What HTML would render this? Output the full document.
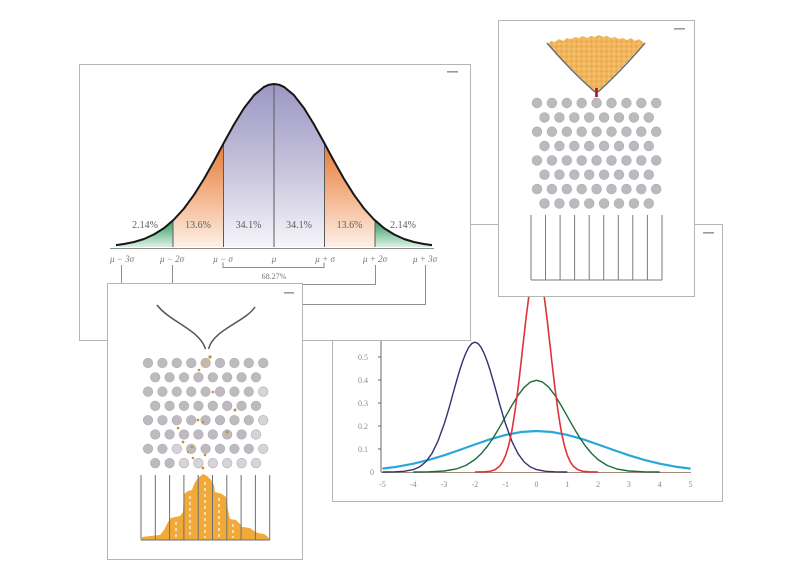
<!DOCTYPE html>
<html>
<head>
<meta charset="utf-8">
<style>
  html,body{margin:0;padding:0;background:#fff;}
  svg{display:block;}
  text{font-family:"Liberation Serif",serif;}
</style>
</head>
<body>
<svg width="800" height="584" viewBox="0 0 800 584" xmlns="http://www.w3.org/2000/svg">
  <defs>
    <linearGradient id="lav" gradientUnits="userSpaceOnUse" x1="0" y1="84" x2="0" y2="247">
      <stop offset="0" stop-color="#9c97c3"/>
      <stop offset="0.55" stop-color="#c9c6dd"/>
      <stop offset="1" stop-color="#f6f5fa"/>
    </linearGradient>
    <linearGradient id="org" gradientUnits="userSpaceOnUse" x1="0" y1="142" x2="0" y2="247">
      <stop offset="0" stop-color="#e47b35"/>
      <stop offset="0.5" stop-color="#f3b389"/>
      <stop offset="1" stop-color="#fdf0e7"/>
    </linearGradient>
    <linearGradient id="grn" gradientUnits="userSpaceOnUse" x1="0" y1="220" x2="0" y2="247">
      <stop offset="0" stop-color="#2f9a60"/>
      <stop offset="1" stop-color="#dcf0e4"/>
    </linearGradient>
    <pattern id="sand" width="5" height="5" patternUnits="userSpaceOnUse">
      <rect width="5" height="5" fill="#f1b65d"/>
      <circle cx="1.5" cy="1.5" r="1" fill="#e5a142"/>
      <circle cx="4" cy="3.8" r="0.8" fill="#f8cd85"/>
    </pattern>
    <path id="bell" d="M116,247 L116,245.1 L124,244 L134,242 L144,239 L154,234.4 L164,228.1 L174,219.5 L184,208.5 L194,194.8 L204,178.9 L214,161.1 L224,142.5 L234,124.4 L244,108.1 L254,95.2 L264,86.9 L269,84.7 L274,84 L279,84.7 L284,86.9 L294,95.2 L304,108.1 L314,124.4 L324,142.5 L334,161.1 L344,178.9 L354,194.8 L364,208.5 L374,219.5 L384,228.1 L394,234.4 L404,239 L414,242 L424,244 L432,245.1 L432,247 Z"/>
    <clipPath id="cG1"><rect x="100" y="60" width="73" height="200"/></clipPath>
    <clipPath id="cO1"><rect x="173" y="60" width="50.5" height="200"/></clipPath>
    <clipPath id="cL"><rect x="223.5" y="60" width="101" height="200"/></clipPath>
    <clipPath id="cO2"><rect x="324.5" y="60" width="50.5" height="200"/></clipPath>
    <clipPath id="cG2"><rect x="375" y="60" width="70" height="200"/></clipPath>
  </defs>

  <rect width="800" height="584" fill="#fff"/>

  <!-- ============ PANEL D (line chart) ============ -->
  <rect x="332.5" y="224.5" width="390" height="277" fill="#fff" stroke="#b5b5b5" stroke-width="1"/>
  <rect x="703" y="232" width="11" height="1.6" fill="#9a9a9a"/>
  <!-- axes -->
  <line x1="381" y1="300" x2="381" y2="472" stroke="#6a6a6a" stroke-width="1"/>
  <line x1="381" y1="472.5" x2="691" y2="472.5" stroke="#a08a78" stroke-width="1"/>
  <g stroke="#666" stroke-width="1">
    <line x1="378" y1="357" x2="381" y2="357"/>
    <line x1="378" y1="380" x2="381" y2="380"/>
    <line x1="378" y1="403" x2="381" y2="403"/>
    <line x1="378" y1="426" x2="381" y2="426"/>
    <line x1="378" y1="449" x2="381" y2="449"/>
  </g>
  <g font-size="8" fill="#8a8a8a" text-anchor="middle">
    <text x="363" y="360">0.5</text>
    <text x="363" y="383">0.4</text>
    <text x="363" y="406">0.3</text>
    <text x="363" y="429">0.2</text>
    <text x="363" y="452">0.1</text>
    <text x="372" y="475">0</text>
    <text x="382.5" y="487">-5</text>
    <text x="413.3" y="487">-4</text>
    <text x="444.1" y="487">-3</text>
    <text x="474.9" y="487">-2</text>
    <text x="505.7" y="487">-1</text>
    <text x="536.5" y="487">0</text>
    <text x="567.3" y="487">1</text>
    <text x="598.1" y="487">2</text>
    <text x="628.9" y="487">3</text>
    <text x="659.7" y="487">4</text>
    <text x="690.5" y="487">5</text>
  </g>
  <!-- cyan -->
  <polyline fill="none" stroke="#2ba6dc" stroke-width="2.2" stroke-linejoin="round" points="382.5,468.6 397.9,466.6 413.3,463.7 428.7,459.9 444.1,455.3 459.5,450.0 474.9,444.5 490.3,439.2 505.7,434.9 521.1,432.0 536.5,431.0 551.9,432.0 567.3,434.9 582.7,439.2 598.1,444.5 613.5,450.0 628.9,455.3 644.3,459.9 659.7,463.7 675.1,466.6 690.5,468.6"/>
  <!-- green -->
  <polyline fill="none" stroke="#1d6a3c" stroke-width="1.4" stroke-linejoin="round" points="413.3,472 428.7,471.8 444.1,471.0 456.4,468.9 465.7,465.5 474.9,459.6 481.1,453.8 487.2,446.5 493.4,437.6 499.5,427.3 505.7,416.3 511.9,405.4 518.0,395.4 524.2,387.3 530.3,382.1 536.5,380.3 542.7,382.1 548.8,387.3 555.0,395.4 561.1,405.4 567.3,416.3 573.5,427.3 579.6,437.6 585.8,446.5 591.9,453.8 598.1,459.6 607.3,465.5 616.6,468.9 628.9,471.0 644.3,471.8 659.7,472"/>
  <!-- navy -->
  <polyline fill="none" stroke="#33336d" stroke-width="1.4" stroke-linejoin="round" points="382.5,472 394.8,471.85 404.1,471.3 413.3,469.6 419.5,466.9 425.6,462.0 431.8,453.7 437.9,441.3 444.1,424.3 447.2,414.3 450.3,403.6 453.3,392.5 456.4,381.5 459.5,370.9 462.6,361.4 465.7,353.4 468.7,347.3 471.8,343.5 474.9,342.2 478.0,343.5 481.1,347.3 484.1,353.4 487.2,361.4 490.3,370.9 493.4,381.5 496.5,392.5 499.5,403.6 502.6,414.3 505.7,424.3 511.9,441.3 518.0,453.7 524.2,462.0 530.3,466.9 536.5,469.6 545.7,471.3 555.0,471.85 567.3,472"/>
  <!-- red -->
  <polyline fill="none" stroke="#e0323c" stroke-width="1.6" stroke-linejoin="round" points="474.9,472 484.1,471.8 490.3,471.3 494.9,469.8 499.5,466.4 502.6,462.0 505.7,455.2 508.8,444.9 511.9,430.6 514.9,411.7 518.0,388.6 521.1,362.2 522.6,348.3 524.2,334.5 525.7,320.9 527.3,308.2 528.8,296.5 530.3,286.3 533.4,272 536.5,266.8 539.6,272 542.7,286.3 544.2,296.5 545.7,308.2 547.3,320.9 548.8,334.5 550.4,348.3 551.9,362.2 555.0,388.6 558.1,411.7 561.1,430.6 564.2,444.9 567.3,455.2 570.4,462.0 573.5,466.4 578.1,469.8 582.7,471.3 588.9,471.8 598.1,472"/>

  <!-- ============ PANEL B (top-right Galton) ============ -->
  <rect x="498.5" y="20.5" width="196" height="276" fill="#fff" stroke="#b5b5b5" stroke-width="1"/>
  <rect x="674" y="28" width="11" height="1.6" fill="#9a9a9a"/>
  <path d="M548,44 L551,41 L555,42 L559,39 L563,41 L567,38 L571,39 L575,37 L579,38 L583,36 L587,38 L591,36 L595,37 L599,35 L603,37 L607,36 L611,38 L615,37 L619,39 L623,38 L627,40 L631,38 L635,41 L639,39 L644,43 Q622,68 598,91 L595,91 Q570,68 548,44 Z" fill="url(#sand)"/>
  <path d="M547,43 Q570,70 595,92" fill="none" stroke="#6e6e72" stroke-width="1.5"/>
  <path d="M645,43 Q622,70 598,92" fill="none" stroke="#6e6e72" stroke-width="1.5"/>
  <line x1="596.5" y1="88" x2="596.5" y2="97" stroke="#a8141c" stroke-width="2.6"/>
  <g fill="#bcbabe" stroke="#aeacb1" stroke-width="0.6">
    <circle cx="537" cy="103" r="4.9"/><circle cx="551.9" cy="103" r="4.9"/><circle cx="566.8" cy="103" r="4.9"/><circle cx="581.7" cy="103" r="4.9"/><circle cx="596.6" cy="103" r="4.9"/><circle cx="611.5" cy="103" r="4.9"/><circle cx="626.4" cy="103" r="4.9"/><circle cx="641.3" cy="103" r="4.9"/><circle cx="656.2" cy="103" r="4.9"/>
    <circle cx="544.5" cy="117.4" r="4.9"/><circle cx="559.4" cy="117.4" r="4.9"/><circle cx="574.3" cy="117.4" r="4.9"/><circle cx="589.2" cy="117.4" r="4.9"/><circle cx="604.1" cy="117.4" r="4.9"/><circle cx="619" cy="117.4" r="4.9"/><circle cx="633.9" cy="117.4" r="4.9"/><circle cx="648.8" cy="117.4" r="4.9"/>
    <circle cx="537" cy="131.7" r="4.9"/><circle cx="551.9" cy="131.7" r="4.9"/><circle cx="566.8" cy="131.7" r="4.9"/><circle cx="581.7" cy="131.7" r="4.9"/><circle cx="596.6" cy="131.7" r="4.9"/><circle cx="611.5" cy="131.7" r="4.9"/><circle cx="626.4" cy="131.7" r="4.9"/><circle cx="641.3" cy="131.7" r="4.9"/><circle cx="656.2" cy="131.7" r="4.9"/>
    <circle cx="544.5" cy="146" r="4.9"/><circle cx="559.4" cy="146" r="4.9"/><circle cx="574.3" cy="146" r="4.9"/><circle cx="589.2" cy="146" r="4.9"/><circle cx="604.1" cy="146" r="4.9"/><circle cx="619" cy="146" r="4.9"/><circle cx="633.9" cy="146" r="4.9"/><circle cx="648.8" cy="146" r="4.9"/>
    <circle cx="537" cy="160.4" r="4.9"/><circle cx="551.9" cy="160.4" r="4.9"/><circle cx="566.8" cy="160.4" r="4.9"/><circle cx="581.7" cy="160.4" r="4.9"/><circle cx="596.6" cy="160.4" r="4.9"/><circle cx="611.5" cy="160.4" r="4.9"/><circle cx="626.4" cy="160.4" r="4.9"/><circle cx="641.3" cy="160.4" r="4.9"/><circle cx="656.2" cy="160.4" r="4.9"/>
    <circle cx="544.5" cy="174.7" r="4.9"/><circle cx="559.4" cy="174.7" r="4.9"/><circle cx="574.3" cy="174.7" r="4.9"/><circle cx="589.2" cy="174.7" r="4.9"/><circle cx="604.1" cy="174.7" r="4.9"/><circle cx="619" cy="174.7" r="4.9"/><circle cx="633.9" cy="174.7" r="4.9"/><circle cx="648.8" cy="174.7" r="4.9"/>
    <circle cx="537" cy="189.1" r="4.9"/><circle cx="551.9" cy="189.1" r="4.9"/><circle cx="566.8" cy="189.1" r="4.9"/><circle cx="581.7" cy="189.1" r="4.9"/><circle cx="596.6" cy="189.1" r="4.9"/><circle cx="611.5" cy="189.1" r="4.9"/><circle cx="626.4" cy="189.1" r="4.9"/><circle cx="641.3" cy="189.1" r="4.9"/><circle cx="656.2" cy="189.1" r="4.9"/>
    <circle cx="544.5" cy="203.4" r="4.9"/><circle cx="559.4" cy="203.4" r="4.9"/><circle cx="574.3" cy="203.4" r="4.9"/><circle cx="589.2" cy="203.4" r="4.9"/><circle cx="604.1" cy="203.4" r="4.9"/><circle cx="619" cy="203.4" r="4.9"/><circle cx="633.9" cy="203.4" r="4.9"/><circle cx="648.8" cy="203.4" r="4.9"/>
  </g>
  <g stroke="#7a7a80" stroke-width="1">
    <line x1="531" y1="215" x2="531" y2="280"/><line x1="545.5" y1="215" x2="545.5" y2="280"/><line x1="560.1" y1="215" x2="560.1" y2="280"/><line x1="574.6" y1="215" x2="574.6" y2="280"/><line x1="589.2" y1="215" x2="589.2" y2="280"/><line x1="603.7" y1="215" x2="603.7" y2="280"/><line x1="618.3" y1="215" x2="618.3" y2="280"/><line x1="632.8" y1="215" x2="632.8" y2="280"/><line x1="647.4" y1="215" x2="647.4" y2="280"/><line x1="662" y1="215" x2="662" y2="280"/>
    <line x1="531" y1="280" x2="662" y2="280"/>
  </g>

  <!-- ============ PANEL A (bell curve) ============ -->
  <rect x="79.5" y="64.5" width="391" height="276" fill="#fff" stroke="#b5b5b5" stroke-width="1"/>
  <rect x="447" y="71" width="11" height="1.6" fill="#9a9a9a"/>
  <use href="#bell" fill="url(#grn)" clip-path="url(#cG1)"/>
  <use href="#bell" fill="url(#org)" clip-path="url(#cO1)"/>
  <use href="#bell" fill="url(#lav)" clip-path="url(#cL)"/>
  <use href="#bell" fill="url(#org)" clip-path="url(#cO2)"/>
  <use href="#bell" fill="url(#grn)" clip-path="url(#cG2)"/>
  <g stroke="#5a5a5a" stroke-width="1">
    <line x1="173" y1="220.6" x2="173" y2="247"/>
    <line x1="223.5" y1="143.5" x2="223.5" y2="247"/>
    <line x1="274" y1="84" x2="274" y2="247"/>
    <line x1="324.5" y1="143.5" x2="324.5" y2="247"/>
    <line x1="375" y1="220.6" x2="375" y2="247"/>
  </g>
  <polyline fill="none" stroke="#161616" stroke-width="2" stroke-linejoin="round" points="116,245.1 124,244 134,242 144,239 154,234.4 164,228.1 174,219.5 184,208.5 194,194.8 204,178.9 214,161.1 224,142.5 234,124.4 244,108.1 254,95.2 264,86.9 269,84.7 274,84 279,84.7 284,86.9 294,95.2 304,108.1 314,124.4 324,142.5 334,161.1 344,178.9 354,194.8 364,208.5 374,219.5 384,228.1 394,234.4 404,239 414,242 424,244 432,245.1"/>
  <line x1="110" y1="248.5" x2="434" y2="248.5" stroke="#8c8c8c" stroke-width="1"/>
  <g font-size="10" fill="#5e5e5e" text-anchor="middle">
    <text x="145" y="228">2.14%</text>
    <text x="198" y="228">13.6%</text>
    <text x="248.5" y="228">34.1%</text>
    <text x="299" y="228">34.1%</text>
    <text x="349.5" y="228">13.6%</text>
    <text x="403" y="228">2.14%</text>
  </g>
  <g font-size="9" fill="#777" text-anchor="middle" font-style="italic">
    <text x="122" y="262">μ − 3σ</text>
    <text x="172" y="262">μ − 2σ</text>
    <text x="223" y="262">μ − σ</text>
    <text x="274" y="262">μ</text>
    <text x="325" y="262">μ + σ</text>
    <text x="375" y="262">μ + 2σ</text>
    <text x="425" y="262">μ + 3σ</text>
  </g>
  <path d="M223,262.5 V267.5 H324 V262.5" fill="none" stroke="#8a8a8a" stroke-width="1"/>
  <text x="274" y="279" font-size="8" fill="#777" text-anchor="middle">68.27%</text>
  <g fill="none" stroke="#8f8f8f" stroke-width="1">
    <path d="M121.5,265 V284"/>
    <path d="M172.5,265 V284"/>
    <path d="M375.5,265 V284.5 H300"/>
    <path d="M425.5,265 V304.5 H300"/>
  </g>

  <!-- ============ PANEL C (bottom-left Galton) ============ -->
  <rect x="107.5" y="283.5" width="195" height="276" fill="#fff" stroke="#b5b5b5" stroke-width="1"/>
  <rect x="284" y="292" width="10" height="1.6" fill="#9a9a9a"/>
  <path d="M157,305 C170,322 200,330 205.5,349" fill="none" stroke="#555" stroke-width="1.5"/>
  <path d="M255,307 C245,322 213,330 208.5,349" fill="none" stroke="#555" stroke-width="1.5"/>
  <g fill="#bdbbbf" stroke="#afadb2" stroke-width="0.6">
    <circle cx="148" cy="363" r="4.8"/><circle cx="162.4" cy="363" r="4.8"/><circle cx="176.8" cy="363" r="4.8"/><circle cx="191.2" cy="363" r="4.8"/><circle cx="205.6" cy="363" r="4.8" fill="#c8b8a0"/><circle cx="220" cy="363" r="4.8"/><circle cx="234.4" cy="363" r="4.8"/><circle cx="248.8" cy="363" r="4.8"/><circle cx="263.2" cy="363" r="4.8"/>
    <circle cx="155.2" cy="377.3" r="4.8"/><circle cx="169.6" cy="377.3" r="4.8"/><circle cx="184" cy="377.3" r="4.8"/><circle cx="198.4" cy="377.3" r="4.8"/><circle cx="212.8" cy="377.3" r="4.8"/><circle cx="227.2" cy="377.3" r="4.8"/><circle cx="241.6" cy="377.3" r="4.8"/><circle cx="256" cy="377.3" r="4.8"/>
    <circle cx="148" cy="391.6" r="4.8"/><circle cx="162.4" cy="391.6" r="4.8"/><circle cx="176.8" cy="391.6" r="4.8"/><circle cx="191.2" cy="391.6" r="4.8"/><circle cx="205.6" cy="391.6" r="4.8"/><circle cx="220" cy="391.6" r="4.8"/><circle cx="234.4" cy="391.6" r="4.8"/><circle cx="248.8" cy="391.6" r="4.8"/><circle cx="263.2" cy="391.6" r="4.8" fill="#d6d4d8"/>
    <circle cx="155.2" cy="405.9" r="4.8"/><circle cx="169.6" cy="405.9" r="4.8"/><circle cx="184" cy="405.9" r="4.8"/><circle cx="198.4" cy="405.9" r="4.8"/><circle cx="212.8" cy="405.9" r="4.8"/><circle cx="227.2" cy="405.9" r="4.8"/><circle cx="241.6" cy="405.9" r="4.8"/><circle cx="256" cy="405.9" r="4.8"/>
    <circle cx="148" cy="420.2" r="4.8"/><circle cx="162.4" cy="420.2" r="4.8"/><circle cx="176.8" cy="420.2" r="4.8"/><circle cx="191.2" cy="420.2" r="4.8"/><circle cx="205.6" cy="420.2" r="4.8"/><circle cx="220" cy="420.2" r="4.8"/><circle cx="234.4" cy="420.2" r="4.8"/><circle cx="248.8" cy="420.2" r="4.8"/><circle cx="263.2" cy="420.2" r="4.8" fill="#d6d4d8"/>
    <circle cx="155.2" cy="434.5" r="4.8"/><circle cx="169.6" cy="434.5" r="4.8"/><circle cx="184" cy="434.5" r="4.8"/><circle cx="198.4" cy="434.5" r="4.8"/><circle cx="212.8" cy="434.5" r="4.8"/><circle cx="227.2" cy="434.5" r="4.8"/><circle cx="241.6" cy="434.5" r="4.8"/><circle cx="256" cy="434.5" r="4.8" fill="#d6d4d8"/>
    <circle cx="148" cy="448.8" r="4.8"/><circle cx="162.4" cy="448.8" r="4.8"/><circle cx="176.8" cy="448.8" r="4.8" fill="#d6d4d8"/><circle cx="191.2" cy="448.8" r="4.8"/><circle cx="205.6" cy="448.8" r="4.8"/><circle cx="220" cy="448.8" r="4.8"/><circle cx="234.4" cy="448.8" r="4.8"/><circle cx="248.8" cy="448.8" r="4.8"/><circle cx="263.2" cy="448.8" r="4.8" fill="#d6d4d8"/>
    <circle cx="155.2" cy="463.1" r="4.8"/><circle cx="169.6" cy="463.1" r="4.8"/><circle cx="184" cy="463.1" r="4.8" fill="#d6d4d8"/><circle cx="198.4" cy="463.1" r="4.8" fill="#d6d4d8"/><circle cx="212.8" cy="463.1" r="4.8" fill="#d6d4d8"/><circle cx="227.2" cy="463.1" r="4.8" fill="#d6d4d8"/><circle cx="241.6" cy="463.1" r="4.8" fill="#d6d4d8"/><circle cx="256" cy="463.1" r="4.8" fill="#d6d4d8"/>
  </g>
  <g fill="#c8903a">
    <circle cx="210" cy="357" r="1.6"/><circle cx="199" cy="370" r="1.3"/><circle cx="213" cy="392" r="1.3"/>
    <circle cx="235" cy="410" r="1.5"/><circle cx="198" cy="420" r="1.4"/><circle cx="203" cy="422" r="1.3"/>
    <circle cx="178" cy="428" r="1.3"/><circle cx="227" cy="432" r="1.5"/><circle cx="183" cy="442" r="1.4"/>
    <circle cx="192" cy="447" r="1.3"/><circle cx="205" cy="455" r="1.3"/><circle cx="193" cy="458" r="1.3"/>
    <circle cx="203" cy="468" r="1.4"/><circle cx="188" cy="452" r="1.2"/>
  </g>
  <path d="M142,540 L142,537 L150,536 L160,535 L164,530 L168,522 L171,518 L180,516 L183,512 L184,494 L188,491 L192,490 L194,484 L198,478 L203,474 L207,476 L211,480 L214,485 L215,492 L222,494 L226,497 L228,510 L230,519 L236,520 L240,524 L242,527 L250,528 L254,531 L258,533 L264,534 L268,537 L270,540 Z" fill="#f1aa38"/>
  <g stroke="#fde9c4" stroke-width="1.6" stroke-dasharray="3 3">
    <line x1="176" y1="522" x2="176" y2="538"/>
    <line x1="190" y1="496" x2="190" y2="538"/>
    <line x1="205" y1="482" x2="205" y2="538"/>
    <line x1="219" y1="498" x2="219" y2="538"/>
    <line x1="233" y1="524" x2="233" y2="538"/>
  </g>
  <g stroke="#6e6e74" stroke-width="1">
    <line x1="141" y1="475" x2="141" y2="540"/><line x1="155.3" y1="475" x2="155.3" y2="540"/><line x1="169.6" y1="475" x2="169.6" y2="540"/><line x1="183.9" y1="475" x2="183.9" y2="540"/><line x1="198.2" y1="475" x2="198.2" y2="540"/><line x1="212.5" y1="475" x2="212.5" y2="540"/><line x1="226.8" y1="475" x2="226.8" y2="540"/><line x1="241.1" y1="475" x2="241.1" y2="540"/><line x1="255.4" y1="475" x2="255.4" y2="540"/><line x1="269.7" y1="475" x2="269.7" y2="540"/>
    <line x1="141" y1="540" x2="270" y2="540"/>
  </g>
</svg>
</body>
</html>
